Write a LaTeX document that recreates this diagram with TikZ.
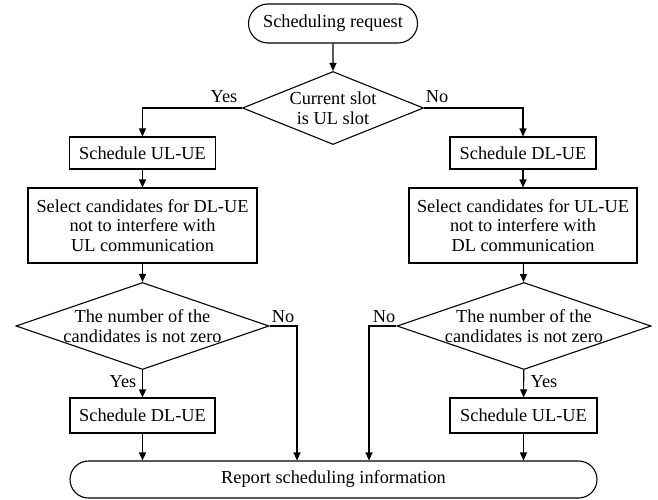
\documentclass[tikz,border=0pt]{standalone}
\usepackage{fontspec}
\setmainfont{Liberation Serif}
\usepackage{tikz}
\usetikzlibrary{shapes.geometric, shapes.misc, arrows.meta, positioning}

\tikzset{
    procbox/.style={draw, line width=1.1pt, rectangle, inner sep=0pt, align=center},
    decbox/.style={draw, line width=1.1pt, diamond, inner sep=0pt},
    decbox text/.style={label={[align=center]center:#1}},
    termbox/.style={draw, line width=1.1pt, rounded rectangle, inner sep=0pt, align=center},
    flow/.style={line width=1.1pt, -{Triangle[length=8pt,width=7pt]}}
}

\begin{document}
\begin{tikzpicture}[x=1pt, y=-1pt, font=\fontsize{18.3}{19.6}\selectfont]
            \useasboundingbox (0,0) rectangle (658,500);
            \node[termbox, minimum width=169pt, minimum height=39pt] (start) at (333,23.5) {Scheduling request};
            \node[decbox, minimum width=181pt, minimum height=73pt,
                  decbox text={Current slot\\is UL slot}] (slot) at (333,108) {};

            \node[procbox, minimum width=146pt, minimum height=32pt] (ulue) at (142.5,153) {Schedule UL-UE};
            \node[procbox, minimum width=229pt, minimum height=75pt] (seldl) at (142.5,225.5) {Select candidates for DL-UE\\not to interfere with\\UL communication};
            \node[decbox, minimum width=253pt, minimum height=87pt,
                  decbox text={The number of the\\candidates is not zero}] (numl) at (142.5,326) {};
            \node[procbox, minimum width=145pt, minimum height=35pt] (dluetwo) at (142.5,415.5) {Schedule DL-UE};

            \node[procbox, minimum width=146pt, minimum height=32pt] (dlue) at (523,153) {Schedule DL-UE};
            \node[procbox, minimum width=228pt, minimum height=75pt] (selul) at (523,225.5) {Select candidates for UL-UE\\not to interfere with\\DL communication};
            \node[decbox, minimum width=254pt, minimum height=87pt,
                  decbox text={The number of the\\candidates is not zero}] (numr) at (524,326) {};
            \node[procbox, minimum width=147pt, minimum height=35pt] (uluetwo) at (523.5,415.5) {Schedule UL-UE};

            \node[termbox, minimum width=527pt, minimum height=37pt] (report) at (333.5,479.5) {Report scheduling information};

            \coordinate (nol) at (297,326);
            \coordinate (nor) at (369,326);

            \draw[flow] (start) -- (slot);
            \draw[flow] (slot.west) -| (ulue.north);
            \draw[flow] (slot.east) -| (dlue.north);
            \draw[flow] (ulue) -- (seldl);
            \draw[flow] (dlue) -- (selul);
            \draw[flow] (seldl) -- (numl);
            \draw[flow] (selul) -- (numr);
            \draw[flow] (numl) -- (dluetwo);
            \draw[flow] (numr) -- (uluetwo);
            \draw[flow] (dluetwo) -- (dluetwo.south |- report.north);
            \draw[flow] (uluetwo) -- (uluetwo.south |- report.north);
            \draw[flow] (numl.east) -- (nol) -- (nol |- report.north);
            \draw[flow] (numr.west) -- (nor) -- (nor |- report.north);

            \node (yesa) at (224,97) {Yes};
            \node (noa) at (437,97) {No};
            \node (nob) at (283,317) {No};
            \node (yesb) at (123,382) {Yes};
            \node (noc) at (384,317) {No};
            \node (yesc) at (544,382) {Yes};
        \end{tikzpicture}
\end{document}
